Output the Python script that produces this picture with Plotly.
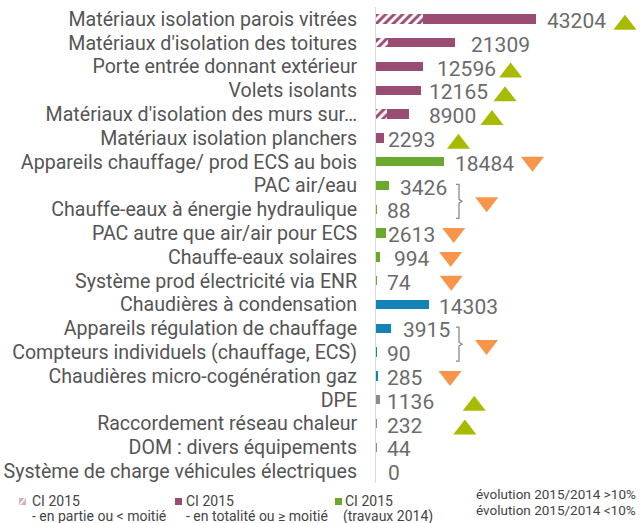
import plotly.graph_objects as go

# ---------------- data ----------------
categories = [
    "Matériaux isolation parois vitrées",
    "Matériaux d'isolation des toitures",
    "Porte entrée donnant extérieur",
    "Volets isolants",
    "Matériaux d'isolation des murs sur…",
    "Matériaux isolation planchers",
    "Appareils chauffage/ prod ECS au bois",
    "PAC air/eau",
    "Chauffe-eaux à énergie hydraulique",
    "PAC autre que air/air pour ECS",
    "Chauffe-eaux solaires",
    "Système prod électricité via ENR",
    "Chaudières à condensation",
    "Appareils régulation de chauffage",
    "Compteurs individuels (chauffage, ECS)",
    "Chaudières micro-cogénération gaz",
    "DPE",
    "Raccordement réseau chaleur",
    "DOM : divers équipements",
    "Système de charge véhicules électriques",
]
totals = [43204, 21309, 12596, 12165, 8900, 2293, 18484, 3426, 88, 2613,
          994, 74, 14303, 3915, 90, 285, 1136, 232, 44, 0]
# part of the bar that is "CI 2015 - en partie ou < moitié" (hatched)
partial = [12800, 3300, 0, 0, 3100, 0, 0, 0, 0, 0,
           0, 0, 0, 0, 0, 0, 0, 0, 0, 0]
groups = ["CI 2015"] * 6 + ["travaux 2014"] * 6 + ["condensation"] * 4 + ["autre"] * 4

# evolution 2015/2014 markers: rows covered and direction
evo_rows = [[0], [2], [3], [4], [5], [6], [7, 8], [9], [10], [11], [13, 14], [15], [16], [17]]
evo_dir = ["up", "up", "up", "up", "up", "down", "down", "down", "down", "down",
           "down", "down", "up", "up"]

# ---------------- layout / style ----------------
PAGE_OFF = 0          # body margin removed by post_script below
W, H = 641, 523
ML, MR, MT, MB = 376, 0, 7, 40
PW = W - ML - MR
PH = H - MT - MB
XMAX = 71560
PPU = PW / XMAX  # pixels per unit
N = len(categories)
BAND = PH / N

COL = {"CI 2015": "#9A4C73", "travaux 2014": "#6BA82E",
       "condensation": "#1283B4", "autre": "#8C8C8C"}
UP_COL = "#A8BB00"
DOWN_COL = "#F7954A"

label_gap_px = [9, 14, 12, 6, 18, 2, 9, 9, 9, 0, 12, 9, 8, 10, 9, 8, 5, 8, 9, 10]
evo_gap_px = [89, 88, 84, 83, 74, 88, 98, 68, 71, 75, 96, 73, 94, 88]


# helpers: page pixel -> data / paper coordinates
def px2x(px):
    return (px - PAGE_OFF - ML) / PPU


def py2y(py):
    return (py - PAGE_OFF - MT) / BAND - 0.5


def pxp(px):
    return (px - PAGE_OFF - ML) / PW


def pyp(py):
    return (MT + PH - (py - PAGE_OFF)) / PH


idx = list(range(N))
solid = [t - p for t, p in zip(totals, partial)]
colors = [COL[g] for g in groups]

fig = go.Figure()
fig.add_trace(go.Bar(
    x=partial, y=idx, orientation="h", showlegend=False, hoverinfo="skip",
    marker=dict(color=COL["CI 2015"], line=dict(width=0),
                pattern=dict(shape="/", fgcolor=COL["CI 2015"], bgcolor="white",
                             size=6, solidity=0.5, fillmode="replace")),
))
fig.add_trace(go.Bar(
    x=solid, y=idx, orientation="h", showlegend=False,
    marker=dict(color=colors, line=dict(width=0)),
))

# value labels
annotations = []
for i, v in enumerate(totals):
    annotations.append(dict(
        x=v, y=i, xref="x", yref="y", text=str(v), showarrow=False,
        xanchor="left", yanchor="middle", xshift=label_gap_px[i], yshift=-2,
        font=dict(size=21, color="#6B6B6B", family="Roboto"),
    ))

# evolution markers
ux, uy, dx, dy = [], [], [], []
for rows, d, g in zip(evo_rows, evo_dir, evo_gap_px):
    xv = totals[rows[0]] + g / PPU
    yv = sum(rows) / len(rows) + (0.2 if len(rows) > 1 else (0.25 if d == "up" else 0.0))
    if d == "up":
        ux.append(xv); uy.append(yv)
    else:
        dx.append(xv); dy.append(yv)

# legend triangles
ux.append(px2x(458)); uy.append(py2y(497.5))
dx.append(px2x(458)); dy.append(py2y(510.5))

fig.add_trace(go.Scatter(x=ux, y=uy, mode="markers", showlegend=False, cliponaxis=False,
                         hoverinfo="skip",
                         marker=dict(symbol="triangle-up", size=20, color=UP_COL)))
fig.add_trace(go.Scatter(x=dx, y=dy, mode="markers", showlegend=False, cliponaxis=False,
                         hoverinfo="skip",
                         marker=dict(symbol="triangle-down", size=20, color=DOWN_COL)))

# brackets
shapes = []
for rows in ([7, 8], [13, 14]):
    yt = rows[0] - 0.05
    yb = rows[-1] + 0.38
    ym = (yt + yb) / 2
    xa = px2x(456)
    xv = px2x(459)
    xn = px2x(462)
    dy_ = 0.08
    path = (f"M {xa},{yt} L {xv},{yt} L {xv},{ym - dy_} L {xn},{ym} "
            f"L {xv},{ym + dy_} L {xv},{yb} L {xa},{yb}")
    shapes.append(dict(type="path", path=path, xref="x", yref="y",
                       line=dict(color="#8A8A8A", width=1.3)))


# legend squares
def sq(x0, color):
    return dict(type="rect", xref="paper", yref="paper",
                x0=pxp(x0), x1=pxp(x0 + 7), y0=pyp(505), y1=pyp(498),
                fillcolor=color, line=dict(width=0))


shapes.append(sq(19, "#D9AFC3"))
shapes.append(dict(type="line", xref="paper", yref="paper",
                   x0=pxp(20), x1=pxp(25), y0=pyp(504.5), y1=pyp(498.5),
                   line=dict(color="white", width=1.5)))
shapes.append(sq(175, COL["CI 2015"]))
shapes.append(sq(335, COL["travaux 2014"]))

leg_font = dict(size=14, color="#444444", family="Roboto")
leg_font_r = dict(size=13.5, color="#444444", family="Roboto")
leg_items = [
    (30, 501, "CI 2015", leg_font), (30, 516, "- en partie ou < moitié", leg_font),
    (184, 501, "CI 2015", leg_font), (184, 516, "- en totalité ou ≥ moitié", leg_font),
    (343, 501, "CI 2015", leg_font), (341, 516, "(travaux 2014)", leg_font),
    (474, 494, "évolution 2015/2014 >10%", leg_font_r),
    (474, 510, "évolution 2015/2014 <10%", leg_font_r),
]
for x0, y0, t, f in leg_items:
    annotations.append(dict(x=pxp(x0), y=pyp(y0), xref="paper", yref="paper", text=t,
                            showarrow=False, xanchor="left", yanchor="middle",
                            font=f))

fig.update_layout(
    width=W, height=H, margin=dict(l=ML, r=MR, t=MT, b=MB),
    paper_bgcolor="white", plot_bgcolor="white",
    barmode="stack", bargap=0.6,
    font=dict(family="Roboto"),
    xaxis=dict(range=[0, XMAX], visible=False, fixedrange=True),
    yaxis=dict(range=[N - 0.5, -0.5], tickmode="array", tickvals=idx, ticktext=categories,
               showgrid=False, zeroline=False, showline=True, linecolor="#DADADA",
               linewidth=1, ticks="", ticklabelstandoff=14, fixedrange=True,
               tickfont=dict(size=19.6, color="#555555", family="Roboto")),
    annotations=annotations, shapes=shapes,
)

fig.write_html(
    "out.html",
    config={"displayModeBar": False},
    post_script="document.body.style.margin='0';document.body.style.overflow='hidden';",
)
